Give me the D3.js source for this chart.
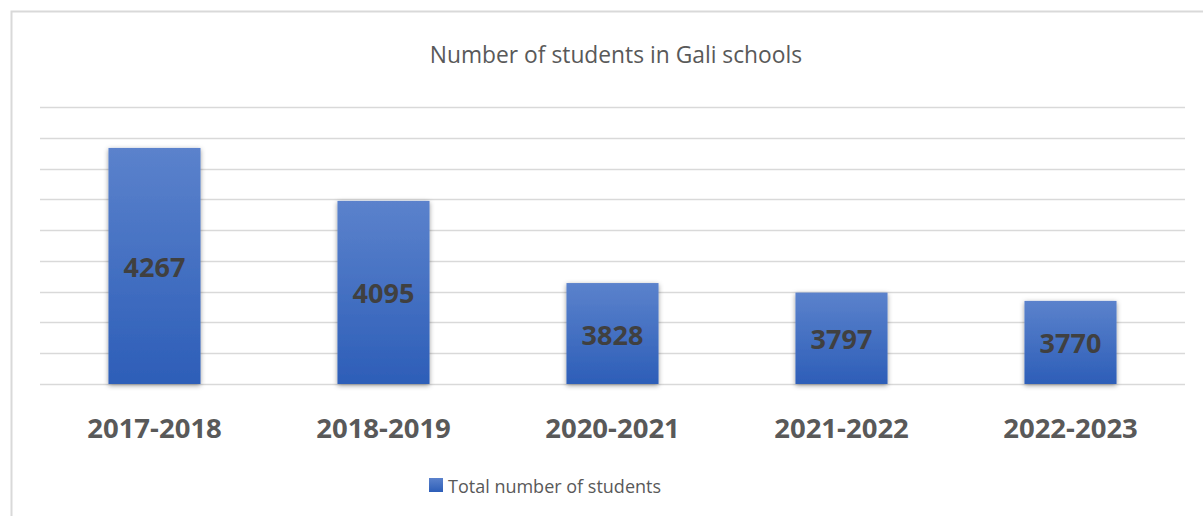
<!DOCTYPE html>
<html>
<head>
<meta charset="utf-8">
<script src="https://cdn.jsdelivr.net/npm/d3@7"></script>
<style>
  html, body { margin: 0; padding: 0; background: #fff; }
  svg { display: block; }
</style>
</head>
<body>
<svg id="chart" width="1203" height="516"></svg>
<script>
// Enrollment per school year
const years = ["2017-2018", "2018-2019", "2020-2021", "2021-2022", "2022-2023"];
const students = [4267, 4095, 3828, 3797, 3770];
const yTicks = [3500, 3600, 3700, 3800, 3900, 4000, 4100, 4200, 4300, 4400];
const seriesName = "Total number of students";
const chartTitle = "Number of students in Gali schools";

const svg = d3.select("#chart");
const W = 1203, H = 516;
const margin = { left: 40, right: 18, top: 107, bottom: 132 };

// Outer frame (left and top edges are visible)
svg.append("path")
  .attr("d", `M11.5,${H} L11.5,11.5 L${W},11.5`)
  .attr("fill", "none")
  .attr("stroke", "#d9d9d9")
  .attr("stroke-width", 2);

const defs = svg.append("defs");
const grad = defs.append("linearGradient")
  .attr("id", "barGrad").attr("x1", 0).attr("y1", 0).attr("x2", 0).attr("y2", 1);
grad.append("stop").attr("offset", "0%").attr("stop-color", "#5b82cc");
grad.append("stop").attr("offset", "100%").attr("stop-color", "#2d5eb8");

const shadow = defs.append("filter").attr("id", "barShadow")
  .attr("x", "-20%").attr("y", "-10%").attr("width", "140%").attr("height", "120%");
shadow.append("feDropShadow")
  .attr("dx", 0).attr("dy", 1.5).attr("stdDeviation", 2.5)
  .attr("flood-color", "#000").attr("flood-opacity", 0.4);

const x = d3.scaleBand()
  .domain(years)
  .range([margin.left, W - margin.right])
  .paddingInner(0.598).paddingOuter(0.299);

const y = d3.scaleLinear()
  .domain([yTicks[0], yTicks[yTicks.length - 1]])
  .range([384, 107]);

// Horizontal gridlines
svg.append("g")
  .selectAll("line")
  .data(yTicks)
  .join("line")
  .attr("x1", margin.left)
  .attr("x2", W - margin.right)
  .attr("y1", d => Math.round(y(d)) + 0.5)
  .attr("y2", d => Math.round(y(d)) + 0.5)
  .attr("stroke", "#d9d9d9")
  .attr("stroke-width", 1.6);

// Bars
svg.append("g")
  .selectAll("rect")
  .data(students)
  .join("rect")
  .attr("x", (d, i) => x(years[i]))
  .attr("width", x.bandwidth())
  .attr("y", d => y(d))
  .attr("height", d => y(yTicks[0]) - y(d))
  .attr("fill", "url(#barGrad)")
  .attr("filter", "url(#barShadow)");

// Value labels inside the bars
svg.append("g")
  .selectAll("text")
  .data(students)
  .join("text")
  .attr("x", (d, i) => x(years[i]) + x.bandwidth() / 2)
  .attr("y", d => (y(d) + y(yTicks[0])) / 2 + 11)
  .attr("text-anchor", "middle")
  .attr("font-family", "'Open Sans', sans-serif")
  .attr("font-weight", 700)
  .attr("font-size", 27)
  .attr("fill", "#404040")
  .text(d => d);

// Category axis labels
const xAxis = d3.axisBottom(x).tickSize(0).tickPadding(0);
const gx = svg.append("g")
  .attr("transform", "translate(0,384)")
  .call(xAxis);
gx.select(".domain").remove();
gx.selectAll("text")
  .attr("y", 54)
  .attr("dy", 0)
  .attr("font-family", "'Open Sans', sans-serif")
  .attr("font-weight", 700)
  .attr("font-size", 27.5)
  .attr("fill", "#595959");

// Title
svg.append("text")
  .attr("x", 616)
  .attr("y", 63)
  .attr("text-anchor", "middle")
  .attr("font-family", "'Open Sans', sans-serif")
  .attr("font-weight", 400)
  .attr("font-size", 22.8)
  .attr("fill", "#595959")
  .text(chartTitle);

// Legend
const lg = svg.append("g").attr("transform", "translate(429,478)");
lg.append("rect").attr("width", 14).attr("height", 14).attr("fill", "url(#barGrad)");
lg.append("text")
  .attr("x", 19)
  .attr("y", 15)
  .attr("font-family", "'Open Sans', sans-serif")
  .attr("font-size", 18)
  .attr("fill", "#595959")
  .text(seriesName);
</script>
</body>
</html>
